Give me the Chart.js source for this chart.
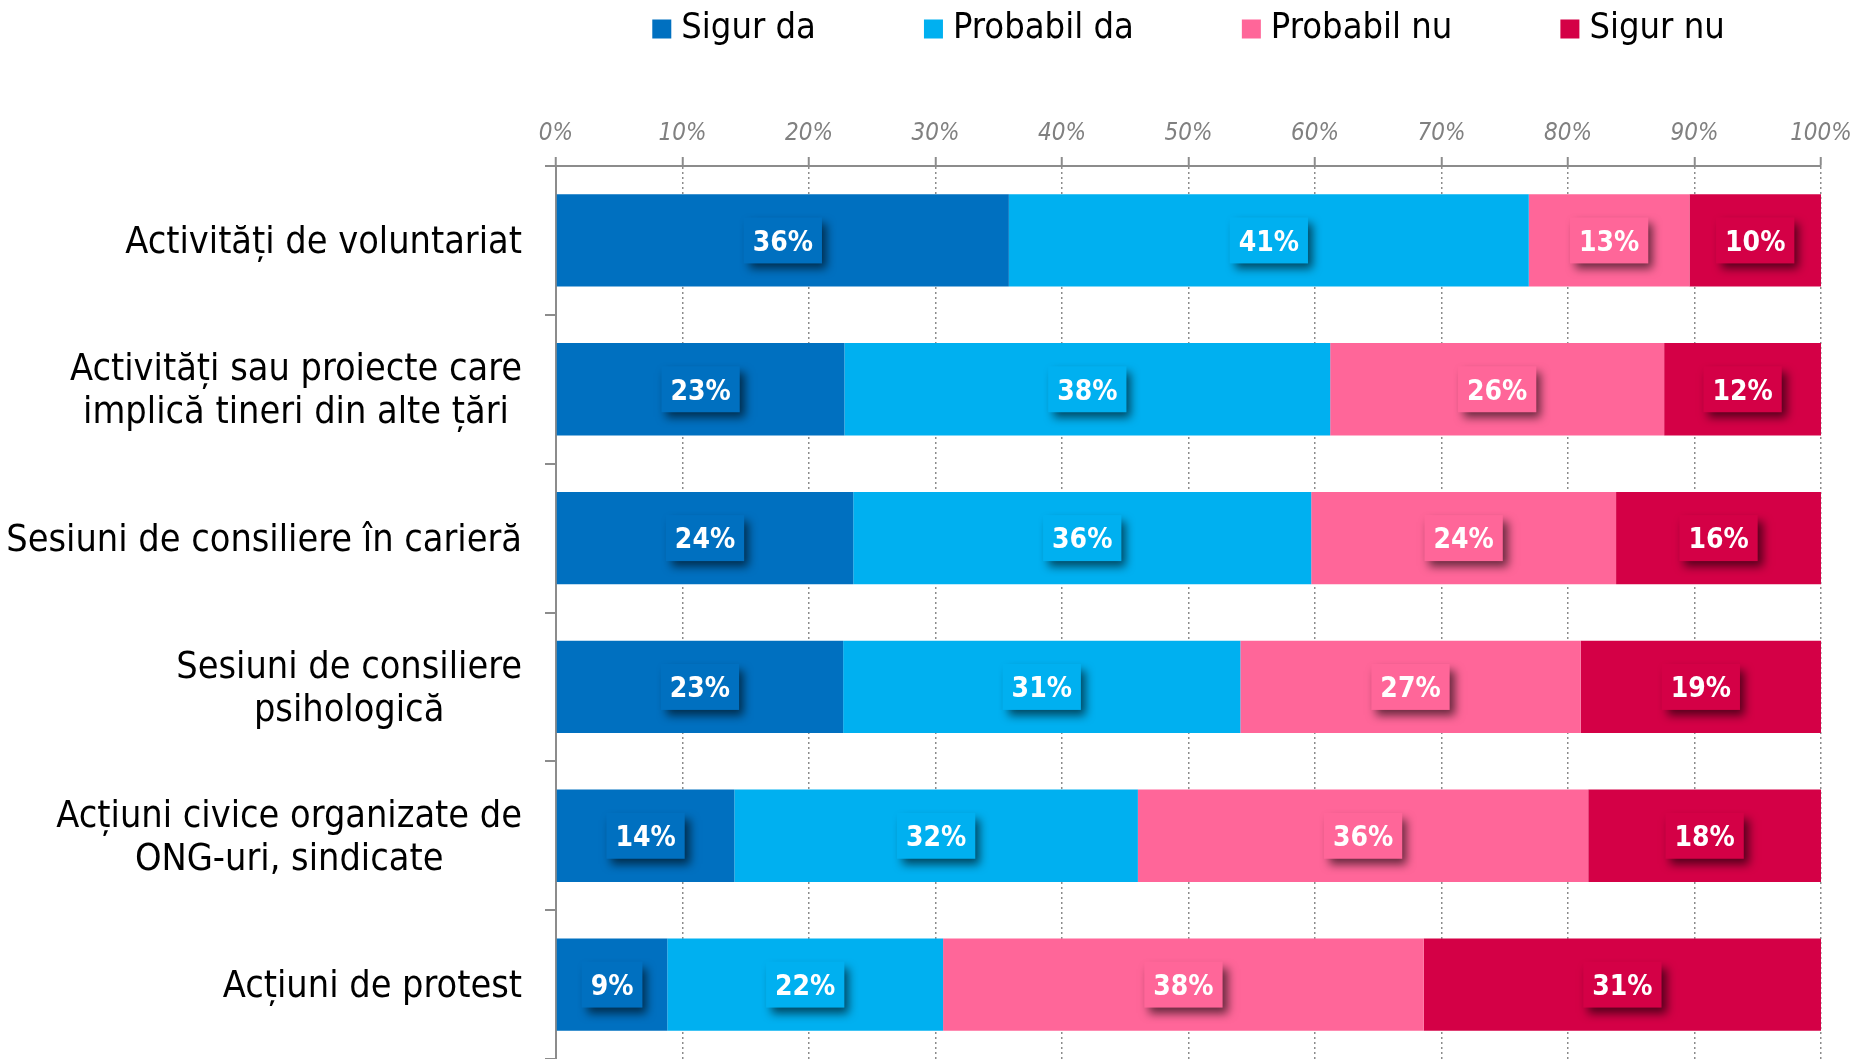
<!DOCTYPE html>
<html>
<head>
<meta charset="utf-8">
<script src="https://cdn.jsdelivr.net/npm/chart.js@4.4.1/dist/chart.umd.min.js"></script>
<style>
  html, body { margin: 0; padding: 0; background: #ffffff; }
  canvas { display: block; }
</style>
</head>
<body>
<canvas id="chart" width="1855" height="1059"></canvas>
<script>
// categories (multi-line labels as arrays)
const categories = [
  ['Activități de voluntariat'],
  ['Activități sau proiecte care', 'implică tineri din alte țări'],
  ['Sesiuni de consiliere în carieră'],
  ['Sesiuni de consiliere', 'psihologică'],
  ['Acțiuni civice organizate de', 'ONG-uri, sindicate'],
  ['Acțiuni de protest']
];

const seriesNames = ['Sigur da', 'Probabil da', 'Probabil nu', 'Sigur nu'];
const seriesColors = ['#0070C0', '#00B0F0', '#FF6699', '#D40046'];

// shares in %
const sigurDa = [35.8, 22.8, 23.5, 22.7, 14.1, 8.8];
const probabilDa = [41.1, 38.4, 36.2, 31.4, 31.9, 21.8];
const probabilNu = [12.7, 26.4, 24.1, 26.9, 35.6, 38.0];
const sigurNu = [10.4, 12.4, 16.2, 19.0, 18.4, 31.4];

const xTickValues = [0, 10, 20, 30, 40, 50, 60, 70, 80, 90, 100];

const FONT = "'DejaVu Sans Condensed', 'DejaVu Sans', sans-serif";
Chart.defaults.font.family = FONT;

const GRAY = '#8c8c8c';

// white value labels sitting on a small shadowed box of the bar colour
const valueLabels = {
  id: 'valueLabels',
  afterDatasetsDraw(chart) {
    const ctx = chart.ctx;
    ctx.save();
    ctx.font = 'bold 28px ' + FONT;
    ctx.textAlign = 'center';
    ctx.textBaseline = 'middle';
    chart.data.datasets.forEach((ds, di) => {
      const meta = chart.getDatasetMeta(di);
      meta.data.forEach((bar, i) => {
        const text = Math.round(ds.data[i]) + '%';
        const cx = (bar.x + bar.base) / 2;
        const cy = bar.y;
        const w = ctx.measureText(text).width + 18;
        const h = 46;
        ctx.save();
        ctx.shadowColor = 'rgba(0,0,0,0.6)';
        ctx.shadowBlur = 9;
        ctx.shadowOffsetX = 5;
        ctx.shadowOffsetY = 6;
        ctx.fillStyle = ds.backgroundColor;
        ctx.fillRect(cx - w / 2, cy - h / 2, w, h);
        ctx.restore();
        ctx.fillStyle = '#ffffff';
        ctx.fillText(text, cx, cy + 3);
      });
    });
    ctx.restore();
  }
};

// category labels: block right-aligned, lines centred inside the block
const categoryLabels = {
  id: 'categoryLabels',
  afterDraw(chart) {
    const ctx = chart.ctx;
    const yScale = chart.scales.y;
    const right = yScale.right - 34;
    const lineH = 43;
    ctx.save();
    ctx.font = '37.5px ' + FONT;
    ctx.fillStyle = '#000000';
    ctx.textAlign = 'center';
    ctx.textBaseline = 'middle';
    chart.data.labels.forEach((lines, i) => {
      const y = yScale.getPixelForTick(i) + 3;
      const block = Math.max(...lines.map(l => ctx.measureText(l).width));
      const cx = right - block / 2;
      lines.forEach((l, k) => {
        ctx.fillText(l, cx, y + (k - (lines.length - 1) / 2) * lineH);
      });
    });
    ctx.restore();
  }
};

// single row legend centred over the plot area
const legendRow = {
  id: 'legendRow',
  afterDraw(chart) {
    const { ctx, chartArea } = chart;
    const box = 19, gap = 10, itemGap = 108, y = 29;
    ctx.save();
    ctx.font = '36px ' + FONT;
    ctx.textBaseline = 'middle';
    ctx.textAlign = 'left';
    const widths = chart.data.datasets.map(ds => box + gap + ctx.measureText(ds.label).width);
    const total = widths.reduce((a, b) => a + b, 0) + itemGap * (widths.length - 1);
    let x = (chartArea.left + chartArea.right) / 2 - total / 2;
    chart.data.datasets.forEach((ds, i) => {
      ctx.fillStyle = ds.backgroundColor;
      ctx.fillRect(x, y - box / 2, box, box);
      ctx.fillStyle = '#000000';
      ctx.fillText(ds.label, x + box + gap, y);
      x += widths[i] + itemGap;
    });
    ctx.restore();
  }
};

const ctx = document.getElementById('chart').getContext('2d');

new Chart(ctx, {
  type: 'bar',
  data: {
    labels: categories,
    datasets: [
      { label: seriesNames[0], data: sigurDa, backgroundColor: seriesColors[0] },
      { label: seriesNames[1], data: probabilDa, backgroundColor: seriesColors[1] },
      { label: seriesNames[2], data: probabilNu, backgroundColor: seriesColors[2] },
      { label: seriesNames[3], data: sigurNu, backgroundColor: seriesColors[3] }
    ]
  },
  options: {
    indexAxis: 'y',
    responsive: false,
    animation: false,
    devicePixelRatio: 1,
    layout: { padding: { top: 100, right: 34, bottom: 0, left: 0 } },
    datasets: { bar: { barPercentage: 0.62, categoryPercentage: 1.0, borderWidth: 0 } },
    plugins: {
      legend: { display: false },
      tooltip: { enabled: false }
    },
    scales: {
      x: {
        position: 'top',
        stacked: true,
        min: 0,
        max: 100,
        afterBuildTicks: (scale) => { scale.ticks = xTickValues.map(v => ({ value: v })); },
        afterFit: (scale) => {
          scale.height = 66;
          scale.paddingLeft = 0;
          scale.paddingRight = 0;
        },
        ticks: {
          callback: (v) => v + '%',
          color: '#808080',
          font: { size: 24, style: 'italic' },
          padding: 9,
          maxRotation: 0,
          autoSkip: false
        },
        grid: {
          color: GRAY,
          lineWidth: 1.5,
          tickLength: 9,
          tickColor: GRAY,
          tickWidth: 2,
          tickBorderDash: []
        },
        border: { display: true, color: GRAY, width: 2, dash: [2, 3] }
      },
      y: {
        stacked: true,
        afterFit: (scale) => { scale.width = 556; },
        ticks: { display: false },
        grid: {
          drawOnChartArea: false,
          offset: true,
          tickLength: 11,
          color: GRAY,
          lineWidth: 2
        },
        border: { display: true, color: GRAY, width: 2 }
      }
    }
  },
  plugins: [valueLabels, categoryLabels, legendRow]
});
</script>
</body>
</html>
